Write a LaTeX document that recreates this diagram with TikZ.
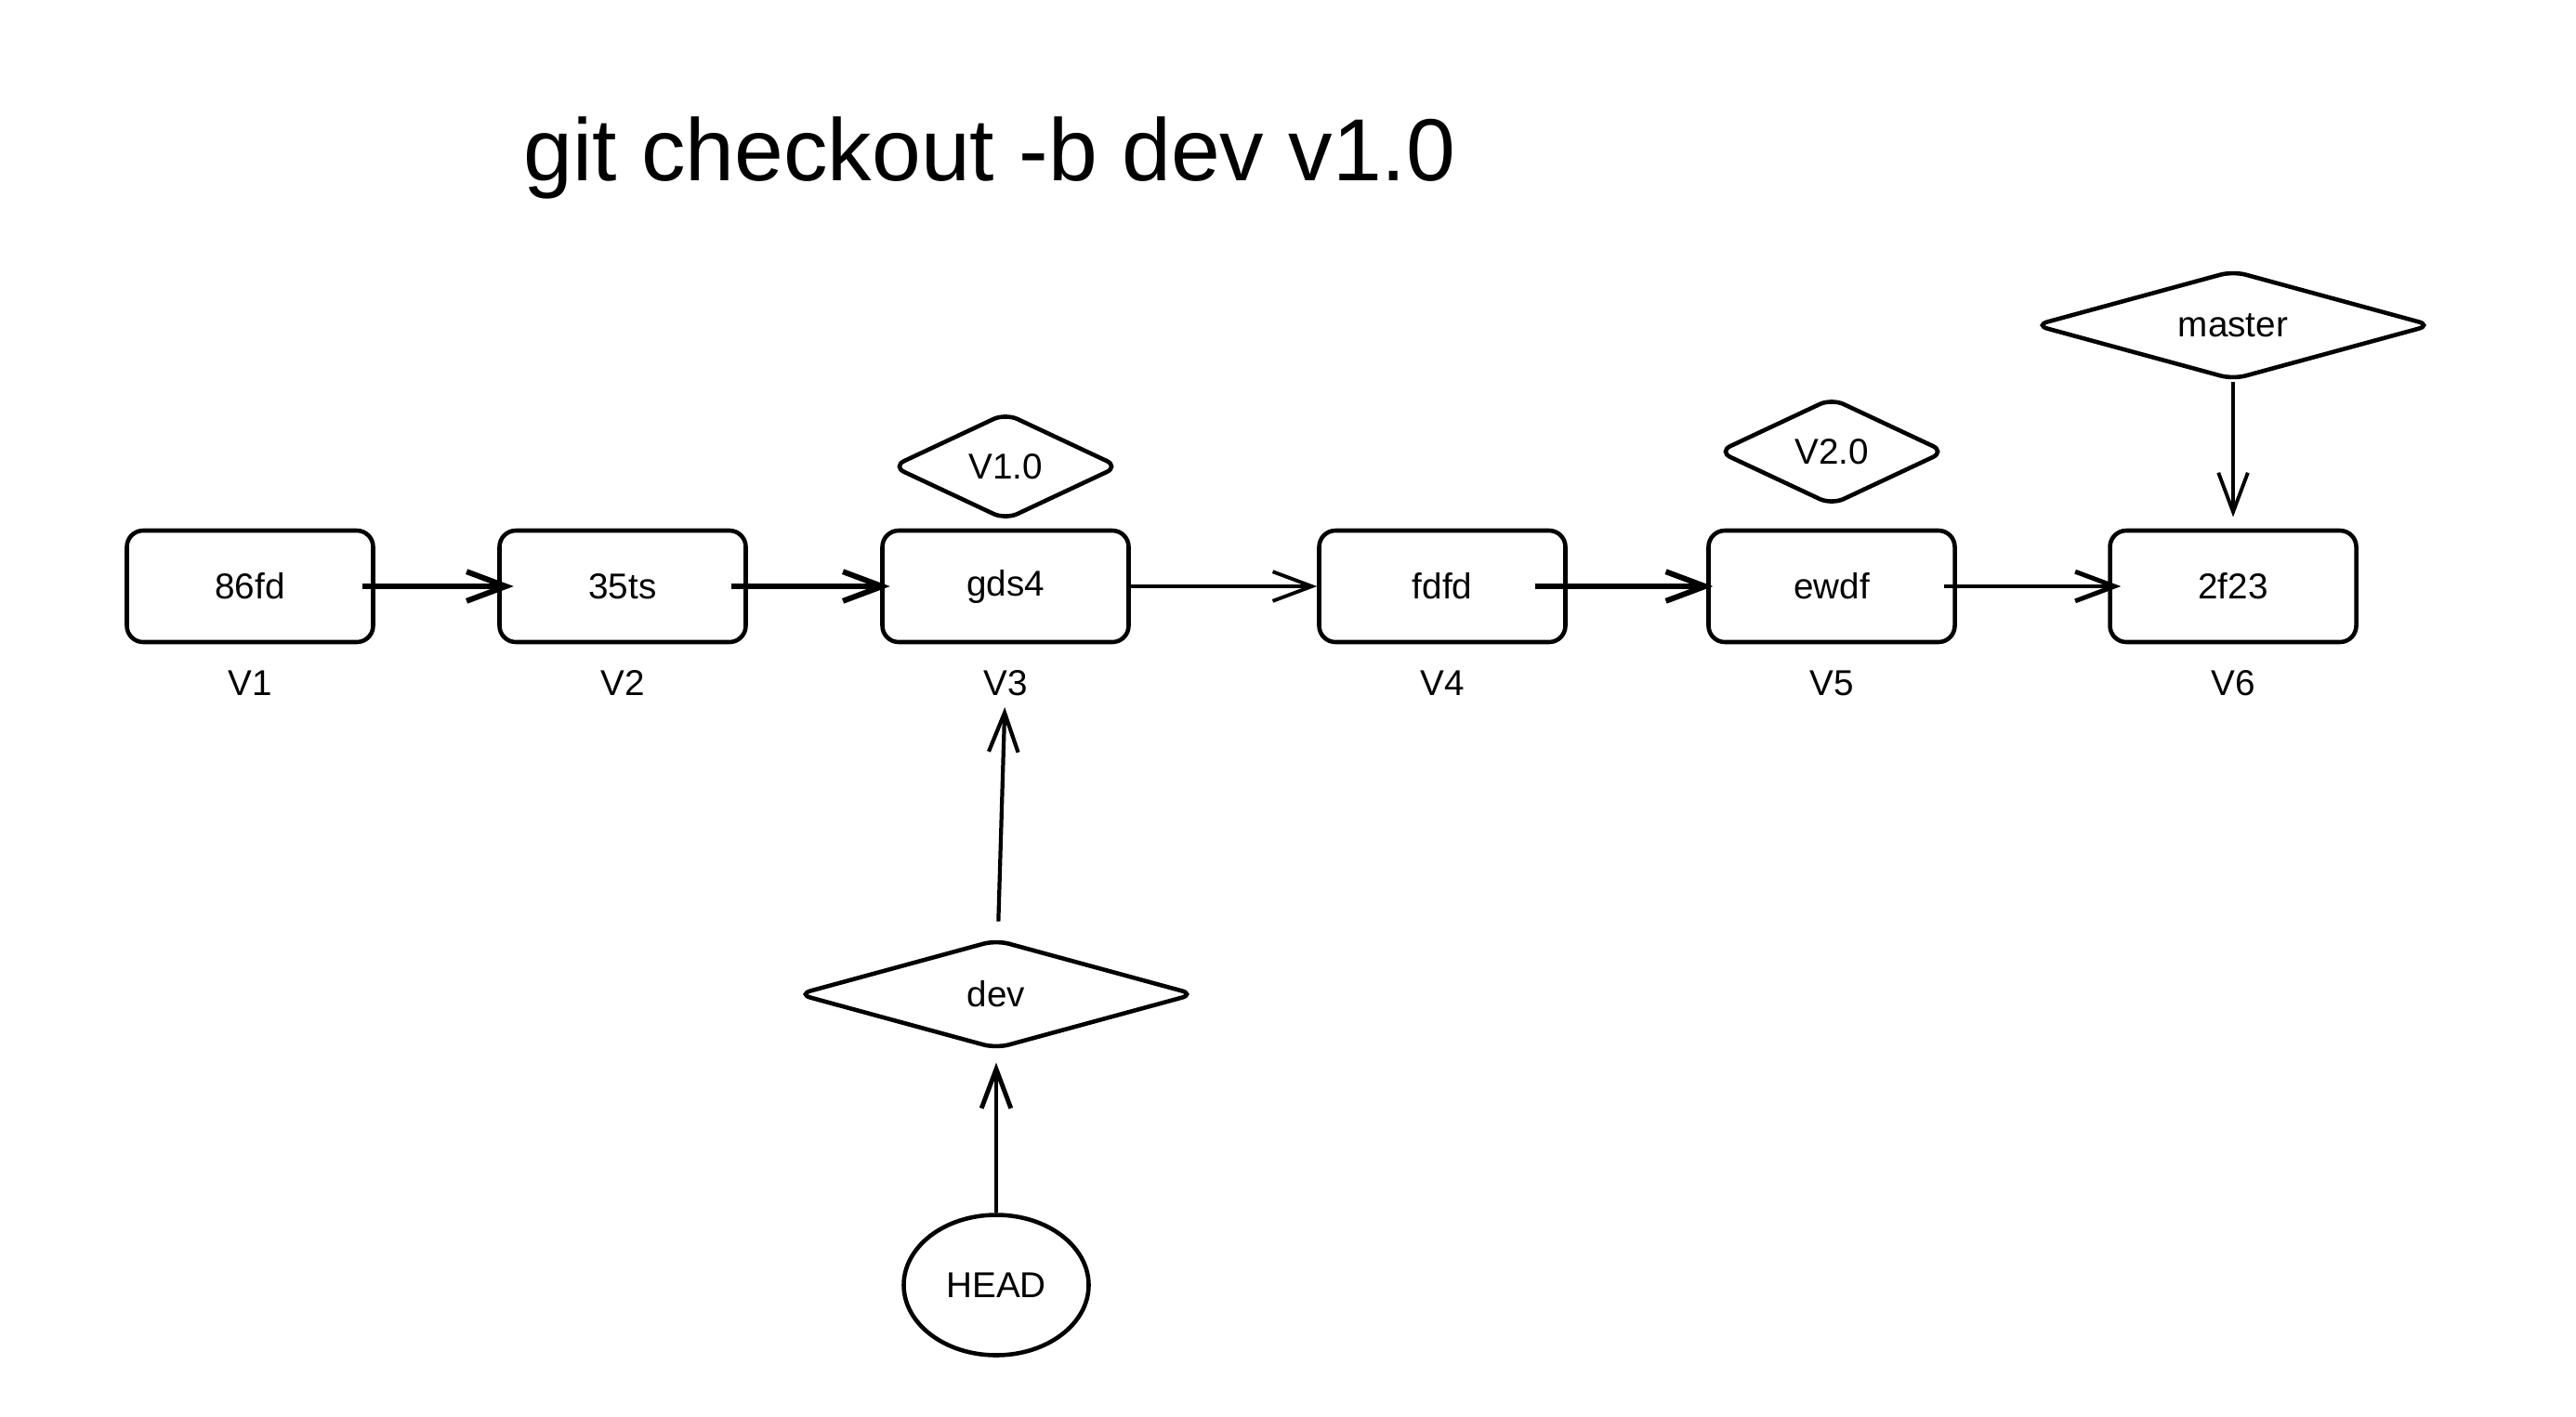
\documentclass[tikz,border=0pt]{standalone}
\usepackage{fontspec}
\setmainfont{Liberation Sans}
\usepackage{tikz}
\usetikzlibrary{positioning, shapes.geometric, arrows.meta}
\tikzstyle{commit}    = [rectangle, draw, line width=1.3pt, text centered, rounded corners=5pt, minimum height=1.2cm, minimum width=2.65cm, font=\fontsize{11}{13}\selectfont]
\tikzstyle{tag}       = [diamond, draw, line width=1.3pt, rounded corners=4pt, inner sep=0pt, aspect=2.1, minimum width=2.45cm, minimum height=1.16cm, font=\fontsize{11}{13}\selectfont]
\tikzstyle{branch}    = [tag, aspect=3.6, minimum width=4.28cm, minimum height=1.18cm]
\tikzstyle{head}      = [ellipse, draw, line width=1.3pt, minimum width=1.99cm, minimum height=1.51cm, font=\fontsize{11}{13}\selectfont]
\tikzstyle{version}   = [font=\fontsize{11}{13}\selectfont]
\tikzstyle{title}     = [anchor=base, font=\fontsize{27}{32}\selectfont]
\tikzstyle{arrow}     = [-{Straight Barb[length=12pt, width=9pt]}, line width=1.1pt]
\tikzstyle{boldarrow} = [arrow, line width=1.7pt]

\begin{document}
\begin{tikzpicture}[node distance=4cm, auto]
    \useasboundingbox (0,0) rectangle (27.72,-15.24);

    % 标题
    \node [title] (title) at (10.65,-1.94) {git checkout -b dev v1.0};

    % 提交节点
    \node [commit] (c1) at (2.69,-6.31) {86fd};
    \node [commit, right of=c1, node distance=4.01cm] (c2) {35ts};
    \node [commit, right of=c2, node distance=4.12cm] (c3) {gds4};
    \node [commit, right of=c3, node distance=4.70cm] (c4) {fdfd};
    \node [commit, right of=c4, node distance=4.19cm] (c5) {ewdf};
    \node [commit, right of=c5, node distance=4.32cm] (c6) {2f23};

    % 版本标签
    \node [version, below of=c1, node distance=1.04cm] (l1) {V1};
    \node [version, below of=c2, node distance=1.04cm] (l2) {V2};
    \node [version, below of=c3, node distance=1.04cm] (l3) {V3};
    \node [version, below of=c4, node distance=1.04cm] (l4) {V4};
    \node [version, below of=c5, node distance=1.04cm] (l5) {V5};
    \node [version, below of=c6, node distance=1.04cm] (l6) {V6};

    % tag
    \node [tag, above of=c3, node distance=1.29cm] (t1) {V1.0};
    \node [tag, above of=c5, node distance=1.45cm] (t2) {V2.0};

    % 分支与 HEAD
    \node [branch, above of=c6, node distance=2.81cm] (master) {master};
    \node [branch, below of=c3, node distance=4.39cm, xshift=-0.1cm] (dev) {dev};
    \node [head, below of=dev, node distance=3.13cm] (head) {HEAD};

    % 画箭头
    \draw [boldarrow, shorten <=-4pt, shorten >=-5pt] (c1) -- (c2);
    \draw [boldarrow, shorten <=-5pt, shorten >=-3pt] (c2) -- (c3);
    \draw [arrow] (c3) -- (c4);
    \draw [boldarrow, shorten <=-10pt, shorten >=-2pt] (c4) -- (c5);
    \draw [arrow, line width=1.4pt, shorten <=-4pt, shorten >=-4pt] (c5) -- (c6);
    \draw [arrow, shorten >=3.5pt] (master) -- (c6);
    \draw [arrow, line width=1.2pt, shorten <=5pt] (dev) -- (l3);
    \draw [arrow, line width=1.4pt, shorten >=3.5pt] (head) -- (dev);
\end{tikzpicture}
\end{document}
